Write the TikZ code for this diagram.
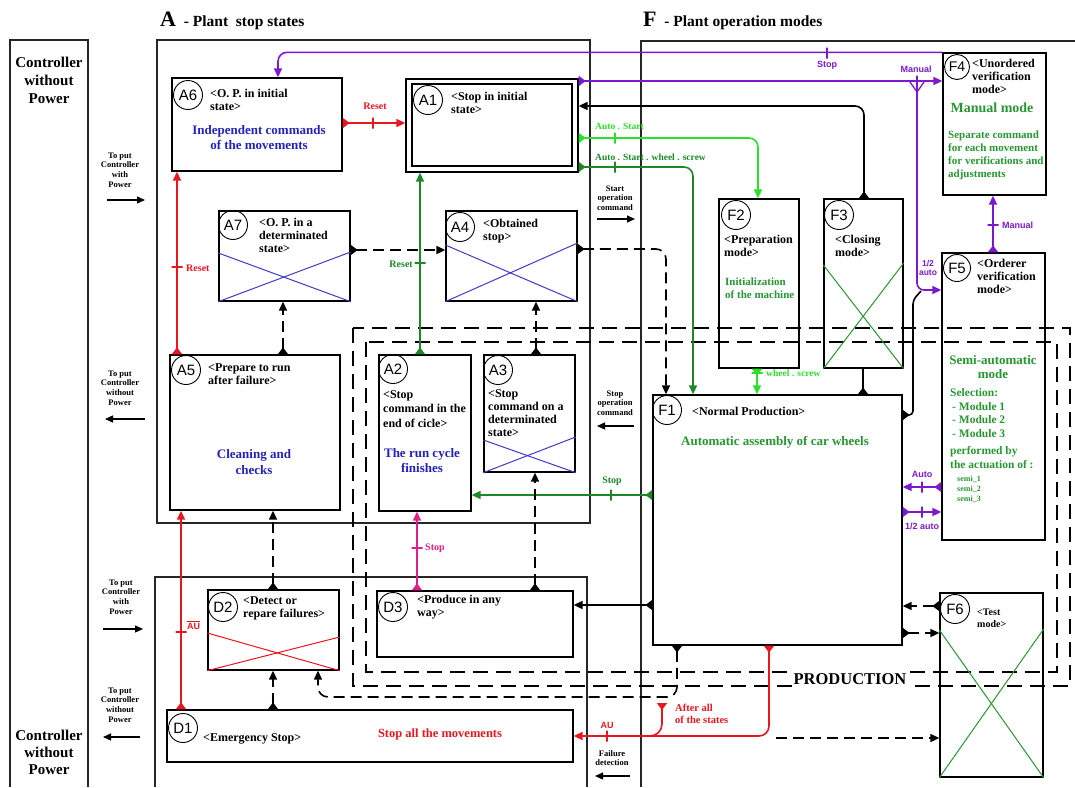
\documentclass[tikz,border=0pt]{standalone}
\usepackage{fontspec}
\setmainfont{Liberation Serif}
\setsansfont{Liberation Sans}
\usetikzlibrary{arrows.meta,fit}
\definecolor{cR}{RGB}{232,22,32}
\definecolor{cDG}{RGB}{30,135,40}
\definecolor{cLG}{RGB}{40,225,40}
\definecolor{cP}{RGB}{125,25,205}
\definecolor{cM}{RGB}{225,30,140}
\definecolor{cB}{RGB}{35,35,185}
\definecolor{cGT}{RGB}{40,150,50}
\definecolor{cX}{RGB}{60,60,200}
\newcommand\gbox[3]{\node[box, fit={#2 #3}] (#1) {};}
\begin{document}
\begin{tikzpicture}[x=1pt,y=-1pt,
 box/.style={draw, line width=1.3pt, inner sep=0pt},
 frm/.style={draw=black!85, line width=1.1pt},
 circ/.style={draw, circle, line width=0.9pt, minimum size=29pt, inner sep=0pt, font=\sffamily\fontsize{15}{15}\selectfont},
 t12/.style={font=\bfseries\fontsize{12}{13}\selectfont, align=left, anchor=north west, inner sep=0pt},
 bl/.style={text=cB, font=\bfseries\fontsize{13}{15}\selectfont, align=center, inner sep=0pt},
 gt/.style={text=cGT, font=\bfseries\fontsize{11}{13}\selectfont, align=left, anchor=north west, inner sep=0pt},
 con/.style={line width=1.6pt, {Triangle[reversed,length=7pt,width=10pt]}-{Triangle[length=9pt,width=8pt]}},
 conS/.style={line width=1.6pt, {Triangle[reversed,length=7pt,width=10pt]}-},
 conE/.style={line width=1.6pt, -{Triangle[length=9pt,width=8pt]}},
 dsh/.style={dash pattern=on 11pt off 6pt},
 tkv/.style={draw, inner sep=0pt, minimum width=0pt, minimum height=11pt, line width=1.6pt},
 tkh/.style={draw, inner sep=0pt, minimum width=11pt, minimum height=0pt, line width=1.6pt},
 lab/.style={font=\bfseries\fontsize{10}{11}\selectfont, inner sep=0pt},
 labs/.style={font=\sffamily\bfseries\fontsize{9}{10}\selectfont, inner sep=0pt, align=center},
 side/.style={font=\bfseries\fontsize{8.5}{9.7}\selectfont, align=center, inner sep=0pt},
 sarr/.style={line width=1.2pt, -{Triangle[length=8pt,width=7pt]}},
 xb/.style={cX, line width=1pt},
 xg/.style={cGT, line width=1pt},
 xr/.style={cR, line width=1pt},
 big/.style={font=\bfseries\fontsize{15}{18}\selectfont, align=center, inner sep=0pt}
]
\useasboundingbox (0,0) rectangle (1075,787);
\fill[white] (0,0) rectangle (1075,787);

% ---------- frames
\draw[frm] (10,787) |- (88,40) -- (88,787);
\node[big] (cwp1) at (49,80) {Controller\\without\\Power};
\node[big, font=\bfseries\fontsize{15}{17}\selectfont] (cwp2) at (49,752) {Controller\\without\\Power};
\node[frm, inner sep=0pt, fit={(157,40) (590,523)}] (Aframe) {};
\draw[frm] (155,787) |- (587,577) -- (587,787);
\draw[frm] (641,787) |- (1075,41);
\node[anchor=base west, inner sep=0pt, font=\bfseries] (Atitle) at (160,26) {\fontsize{22}{22}\selectfont A\fontsize{15.5}{16}\selectfont\ \ - Plant\ \ stop states};
\node[anchor=base west, inner sep=0pt, font=\bfseries] (Ftitle) at (643,26) {\fontsize{22}{22}\selectfont F\fontsize{15.5}{16}\selectfont\ \ - Plant operation modes};

% ---------- production areas
\draw[dsh, dash pattern=on 15pt off 8pt, line width=2pt] (353,328) rectangle (1070,686);
\draw[dsh, dash pattern=on 15pt off 8pt, line width=2pt] (366,342) rectangle (1057,672);
\node[fill=white, inner sep=2pt, font=\bfseries\fontsize{16.5}{16.5}\selectfont] (prod) at (850,679) {PRODUCTION};

% ---------- A boxes
\gbox{A6}{(172,78)}{(342,171)}
\node[circ] (A6c) at (188,95) {A6};
\node[t12] (A6t) at (210,89) {<O. P. in initial\\state>};
\node[bl] (A6d) at (259,138) {Independent commands\\of the movements};

\gbox{A1}{(406,79)}{(578,172)}
\node[draw, line width=1.1pt, inner sep=0pt, fit={(412,84) (572,166)}] (A1i) {};
\node[circ] (A1c) at (428,100) {A1};
\node[t12] (A1t) at (451,92) {<Stop in initial\\state>};

\gbox{A7}{(219,211)}{(350,301)}
\node[circ] (A7c) at (233,225) {A7};
\node[t12] (A7t) at (259,218) {<O. P. in a\\determinated\\state>};
\draw[xb] (A7.west |- 0,253) -- (A7.south east);
\draw[xb] (A7.south west) -- (A7.east |- 0,252);

\gbox{A4}{(446,211)}{(577,301)}
\node[circ] (A4c) at (460,227) {A4};
\node[t12] (A4t) at (483,219) {<Obtained\\stop>};
\draw[xb] (A4.west |- 0,245) -- (A4.south east);
\draw[xb] (A4.south west) -- (A4.east |- 0,243);

\gbox{A5}{(170,355)}{(340,510)}
\node[circ] (A5c) at (186,370) {A5};
\node[t12] (A5t) at (208,363) {<Prepare to run\\after failure>};
\node[bl, font=\bfseries\fontsize{13}{16.5}\selectfont] (A5d) at (254,462) {Cleaning and\\checks};

\gbox{A2}{(379,355)}{(471,511)}
\node[circ] (A2c) at (393,369) {A2};
\node[t12, font=\bfseries\fontsize{12}{14.5}\selectfont] (A2t) at (383,390) {<Stop\\command in the\\end of cicle>};
\node[bl] (A2d) at (422,461) {The run cycle\\finishes};

\gbox{A3}{(484,355)}{(575,472)}
\node[circ] (A3c) at (498,370) {A3};
\node[t12] (A3t) at (488,389) {<Stop\\command on a\\determinated\\state>};
\draw[xb] (A3.west |- 0,440) -- (A3.south east);
\draw[xb] (A3.south west) -- (A3.east |- 0,437);

% ---------- D boxes
\gbox{D1}{(167,710)}{(573,762)}
\node[circ] (D1c) at (183,728) {D1};
\node[t12] (D1t) at (203,733) {<Emergency Stop>};
\node[text=cR, font=\bfseries\fontsize{12.5}{14}\selectfont, inner sep=0pt] (D1d) at (440,734) {Stop all the movements};

\gbox{D2}{(208,590)}{(339,670)}
\node[circ] (D2c) at (223,607) {D2};
\node[t12] (D2t) at (243,596) {<Detect or\\repare failures>};
\draw[xr] (D2.west |- 0,633) -- (D2.south east);
\draw[xr] (D2.south west) -- (D2.east |- 0,637);

\gbox{D3}{(377,591)}{(573,657)}
\node[circ] (D3c) at (393,607) {D3};
\node[t12] (D3t) at (417,595) {<Produce in any\\way>};

% ---------- F boxes
\gbox{F1}{(653,395)}{(902,645)}
\node[circ] (F1c) at (667,410) {F1};
\node[t12] (F1t) at (692,407) {<Normal Production>};
\node[text=cGT, font=\bfseries\fontsize{13}{15}\selectfont, inner sep=0pt] (F1d) at (775,442) {Automatic assembly of car wheels};

\gbox{F2}{(719,199)}{(799,368)}
\node[circ] (F2c) at (736,215) {F2};
\node[t12] (F2t) at (724,235) {<Preparation\\mode>};
\node[gt] (F2d) at (725,278) {Initialization\\of the machine};

\gbox{F3}{(824,199)}{(903,368)}
\node[circ] (F3c) at (839,215) {F3};
\node[t12] (F3t) at (835,235) {<Closing\\mode>};
\draw[xg] (F3.west |- 0,265) -- (F3.south east);
\draw[xg] (F3.south west) -- (F3.east |- 0,263);

\gbox{F4}{(943,53)}{(1046,195)}
\node[circ, minimum size=25pt, font=\sffamily\fontsize{14}{14}\selectfont] (F4c) at (957,67) {F4};
\node[t12] (F4t) at (972,59) {<Unordered\\verification\\mode>};
\node[text=cGT, font=\bfseries\fontsize{14}{15}\selectfont, inner sep=0pt] (F4d) at (992,108) {Manual mode};
\node[gt] (F4e) at (948,131) {Separate command\\for each movement\\for verifications and\\adjustments};

\gbox{F5}{(942,253)}{(1045,540)}
\node[circ, minimum size=27pt] (F5c) at (957,268) {F5};
\node[t12] (F5t) at (977,259) {<Orderer\\verification\\mode>};
\node[text=cGT, font=\bfseries\fontsize{13}{14}\selectfont, align=center, inner sep=0pt] (F5d) at (993,367) {Semi-automatic\\mode};
\node[gt, font=\bfseries\fontsize{11.5}{13.5}\selectfont] (F5e) at (950,388) {Selection:};
\node[gt, font=\bfseries\fontsize{11.5}{13.5}\selectfont] (F5f) at (952,402) {- Module 1\\- Module 2\\- Module 3};
\node[gt, font=\bfseries\fontsize{11.5}{14}\selectfont] (F5g) at (950,446) {performed by\\the actuation of :};
\node[gt, font=\bfseries\fontsize{8}{10}\selectfont] (F5h) at (957,476) {semi\_1\\semi\_2\\semi\_3};

\gbox{F6}{(940,593)}{(1043,777)}
\node[circ] (F6c) at (955,609) {F6};
\node[t12, font=\bfseries\fontsize{10}{12}\selectfont] (F6t) at (977,609) {<Test\\mode>};
\draw[xg] (F6.west |- 0,630) -- (F6.south east);
\draw[xg] (F6.south west) -- (F6.east |- 0,629);

% ---------- red connectors
\draw[cR, con] (A6.east |- 0,123) -- (A1.west |- 0,123);
\node[tkv, draw=cR] (tr1) at (373,123) {};
\node[lab, text=cR] (lr1) at (375,106) {Reset};

\draw[cR, con] (177,0 |- A5.north) -- (177,0 |- A6.south);
\node[tkh, draw=cR] (tr2) at (177,267) {};
\node[lab, text=cR, anchor=west] (lr2) at (186,268) {Reset};

\draw[cR, con] (181,0 |- D1.north) -- (181,0 |- A5.south);
\node[tkh, draw=cR] (tr3) at (181,632) {};
\node[labs, text=cR, anchor=west] (lr3) at (187,625) {$\overline{\hbox{AU}}$};

\draw[cR, con, rounded corners=10pt] (769,0 |- F1.south) |- (D1.east);
\coordinate (allst) at (662,703);
\draw[cR, conS, rounded corners=12pt] (allst) |- (635,736);
\node[tkv, draw=cR] (tr4) at (607,736) {};
\node[labs, text=cR] (lr4) at (607,725) {AU};
\node[lab, text=cR, align=left, anchor=north west, font=\bfseries\fontsize{10.5}{12}\selectfont] (lr5) at (675,704) {After all\\of the states};

% ---------- green connectors
\draw[cDG, con] (420,0 |- A2.north) -- (420,0 |- A1.south);
\node[tkh, draw=cDG] (tg1) at (420,263) {};
\node[lab, text=cDG, anchor=east] (lg1) at (413,264) {Reset};

\draw[cDG, con] (F1.west |- 0,495) -- (A2.east |- 0,495);
\node[tkv, draw=cDG] (tg2) at (611,495) {};
\node[lab, text=cDG] (lg2) at (612,481) {Stop};

\draw[cDG, con, rounded corners=9pt] (A1.east |- 0,167) -| (693,0 |- F1.north);
\node[tkv, draw=cDG] (tg3) at (615,167) {};
\node[lab, text=cDG, anchor=west, font=\bfseries\fontsize{9.5}{10}\selectfont] (lg3) at (595,157) {Auto . Start . wheel . screw};

\draw[cLG, con, rounded corners=9pt] (A1.east |- 0,138) -| (758,0 |- F2.north);
\node[tkv, draw=cLG] (tg4) at (615,138) {};
\node[lab, text=cLG, anchor=west, font=\bfseries\fontsize{9.5}{10}\selectfont] (lg4) at (595,126) {Auto . Start};

\draw[cLG, con] (757,0 |- F2.south) -- (757,0 |- F1.north);
\node[tkh, draw=cLG] (tg5) at (757,373) {};
\node[lab, text=cLG, anchor=west, font=\bfseries\fontsize{9.5}{10}\selectfont] (lg5) at (766,373) {wheel . screw};

% ---------- magenta
\draw[cM, con] (417,0 |- D3.north) -- (417,0 |- A2.south);
\node[tkh, draw=cM] (tm1) at (417,548) {};
\node[lab, text=cM, anchor=west] (lm1) at (425,548) {Stop};

% ---------- purple connectors
\draw[cP, conE, rounded corners=9pt] (F4.north west) -| (278,0 |- A6.north);
\node[tkv, draw=cP] (tp1) at (827,53) {};
\node[labs, text=cP] (lp1) at (827,65) {Stop};

\draw[cP, con] (A1.east |- 0,81) -- (F4.west |- 0,81);
\node[tkv, draw=cP] (tp2) at (917,81) {};
\draw[cP, line width=1.3pt] (910,82) -- (917,92) -- (924,82);
\node[labs, text=cP] (lp2) at (916,69) {Manual};
\draw[cP, conE, rounded corners=7pt] (917,84) |- (F5.west |- 0,290);
\node[labs, text=cP, font=\sffamily\bfseries\fontsize{8.5}{9.5}\selectfont] (lp3) at (928,268) {1/2\\auto};

\draw[cP, con] (993,0 |- F5.north) -- (993,0 |- F4.south);
\node[tkh, draw=cP] (tp3) at (993,225) {};
\node[labs, text=cP, anchor=west] (lp4) at (1002,225) {Manual};

\draw[cP, con] (F5.west |- 0,487) -- (F1.east |- 0,487);
\node[tkv, draw=cP] (tp4) at (922,487) {};
\node[labs, text=cP] (lp5) at (922,474) {Auto};

\draw[cP, con] (F1.east |- 0,512) -- (F5.west |- 0,512);
\node[tkv, draw=cP] (tp5) at (922,512) {};
\node[labs, text=cP] (lp6) at (922,526) {1/2 auto};

% ---------- black connectors
\draw[con, rounded corners=9pt] (864,0 |- F3.north) |- (A1.east |- 0,106);
\draw[conS] (863,0 |- F1.north) -- (863,0 |- F3.south);
\draw[con] (F1.west |- 0,605) -- (D3.east |- 0,605);
\draw[conS, rounded corners=4pt] (F1.east |- 0,415) -| (913,300) -- (921,291);

% ---------- dashed connectors
\draw[dsh, con] (283,0 |- A5.north) -- (283,0 |- A7.south);
\draw[dsh, con] (A7.east |- 0,250) -- (A4.west |- 0,250);
\draw[dsh, con, rounded corners=10pt] (A4.east |- 0,249) -| (666,0 |- F1.north);
\draw[dsh, con] (536,0 |- A3.north) -- (536,0 |- A4.south);
\draw[dsh, con] (535,0 |- D3.north) -- (535,0 |- A3.south);
\draw[dsh, con] (273,0 |- D2.north) -- (273,0 |- A5.south);
\draw[dsh, con] (273,0 |- D1.north) -- (273,0 |- D2.south);
\draw[dsh, con, rounded corners=10pt] (677,0 |- F1.south) |- (318,697) -- (318,0 |- D2.south);
\draw[dsh, con] (F6.west |- 0,606) -- (F1.east |- 0,606);
\draw[dsh, con] (F1.east |- 0,633) -- (F6.west |- 0,633);
\coordinate (allst2) at (776,738);
\draw[dsh, conE] (allst2) -- (F6.west |- 0,738);

% ---------- side commands
\node[side] (sl1) at (120,170) {To put\\Controller\\with\\Power};
\coordinate (s1a) at (107,200); \coordinate (s1b) at (145,200);
\draw[sarr] (s1a) -- (s1b);
\node[side] (sl2) at (120,388) {To put\\Controller\\without\\Power};
\coordinate (s2a) at (145,419); \coordinate (s2b) at (105,419);
\draw[sarr] (s2a) -- (s2b);
\node[side] (sl3) at (121,597) {To put\\Controller\\with\\Power};
\coordinate (s3a) at (103,629); \coordinate (s3b) at (143,629);
\draw[sarr] (s3a) -- (s3b);
\node[side] (sl4) at (120,705) {To put\\Controller\\without\\Power};
\coordinate (s4a) at (140,737); \coordinate (s4b) at (103,737);
\draw[sarr] (s4a) -- (s4b);
\node[side] (sl5) at (615,198) {Start\\operation\\command};
\coordinate (s5a) at (597,219); \coordinate (s5b) at (635,219);
\draw[sarr] (s5a) -- (s5b);
\node[side] (sl6) at (615,403) {Stop\\operation\\command};
\coordinate (s6a) at (634,426); \coordinate (s6b) at (597,426);
\draw[sarr] (s6a) -- (s6b);
\node[side] (sl7) at (612,758) {Failure\\detection};
\coordinate (s7a) at (630,776); \coordinate (s7b) at (595,776);
\draw[sarr] (s7a) -- (s7b);
\end{tikzpicture}
\end{document}
